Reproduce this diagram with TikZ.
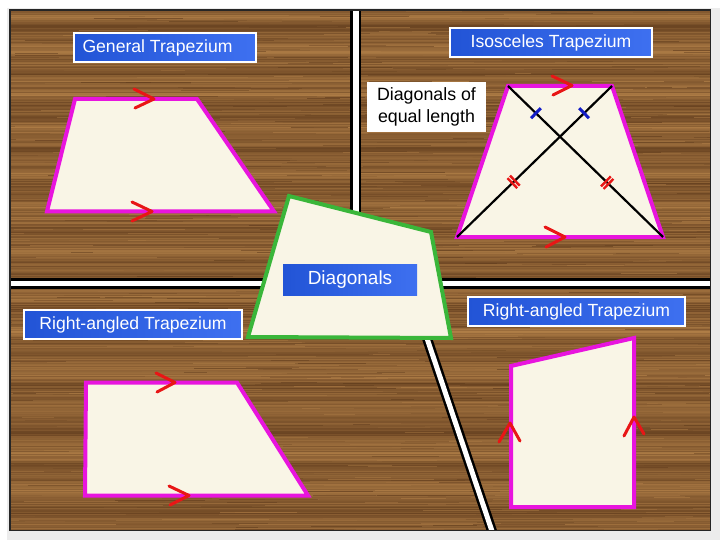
\documentclass[tikz,border=0pt]{standalone}
\usepackage{fontspec}
\setmainfont{Liberation Sans}
\usetikzlibrary{calc}
\definecolor{framegray}{RGB}{236,236,236}
\definecolor{wooddark}{RGB}{92,56,26}
\definecolor{woodlight}{RGB}{178,128,72}
\definecolor{woodmid}{RGB}{135,90,48}
\definecolor{cream}{RGB}{249,245,230}
\definecolor{pinkline}{RGB}{232,20,222}
\definecolor{greenline}{RGB}{58,182,58}
\definecolor{chevred}{RGB}{232,22,22}
\definecolor{tickblue}{RGB}{20,30,200}
\definecolor{lblA}{RGB}{34,84,214}
\definecolor{lblB}{RGB}{62,112,240}
\tikzset{
  shapefill/.style={fill=cream, draw=pinkline, line width=4pt, line join=miter},
  greenshape/.style={fill=cream, draw=greenline, line width=4pt, line join=miter},
  chev/.style={draw=chevred, line width=3pt, line cap=round, line join=round},
  diagline/.style={draw=black, line width=2.2pt},
  bluetick/.style={draw=tickblue, line width=3pt},
  redtick/.style={draw=chevred, line width=2.4pt},
  lblbox/.style={draw=white, line width=2.2pt, left color=lblA, right color=lblB, inner sep=0pt, minimum height=28.8pt},
  lbltxt/.style={text=white, font=\fontsize{17.6}{20}\selectfont, inner sep=0pt},
}
\begin{document}
\begin{tikzpicture}[x=1pt,y=-1pt]
\useasboundingbox (0,0) rectangle (720,540);
\fill[framegray] (0,0) rectangle (720,540);
\fill[white] (0,0) rectangle (720,8);
\fill[white] (0,0) rectangle (7,540);
% wood
\begin{scope}
\clip (10,10) rectangle (710,530);
\fill[woodmid] (10,10) rectangle (710,530);
\pgfmathsetseed{7}
\foreach \yy in {10,11,...,529}{
  \pgfmathtruncatemacro\pp{max(0,min(100,55+14*sin(\yy*9)+10*sin(\yy*23+40)+40*(rnd-0.5)))}
  \draw[line width=1.1pt, woodlight!\pp!wooddark] (10,\yy+0.5) -- (710,\yy+0.5);
}
\foreach \k in {1,...,900}{
  \pgfmathsetmacro\xa{10+700*rnd}
  \pgfmathsetmacro\ya{10+520*rnd}
  \pgfmathsetmacro\ll{15+110*rnd}
  \pgfmathtruncatemacro\pp{100*rnd}
  \draw[line width=0.8pt, woodlight!\pp!wooddark, opacity=0.55] (\xa,\ya) -- ++(\ll,0);
}
% dividers
\fill[black] (350,10) rectangle (361,284);
\fill[white] (353,10) rectangle (358.5,284);
\fill[black] (10,278) rectangle (710,288.5);
\fill[white] (10,281) rectangle (710,286);
\draw[black, line width=10pt] (409,285) -- (495,540);
\draw[white, line width=5pt] (409,285) -- (495,540);
\end{scope}
\draw[black!85, line width=1.6pt] (10,10) rectangle (710.5,530.5);

% General trapezium
\coordinate (g1) at (75,99);
\coordinate (g2) at (197,99);
\coordinate (g3) at (274,211.5);
\coordinate (g4) at (47,211.5);
\draw[shapefill] (g1) -- (g2) -- (g3) -- (g4) -- cycle;
\draw[chev] (134,89) -- (154,99) -- (135,108);
\draw[chev] (132,202) -- (152,211.5) -- (132,221);

% Isosceles trapezium
\coordinate (i1) at (508,86);
\coordinate (i2) at (612,86);
\coordinate (i3) at (663,237);
\coordinate (i4) at (457,237);
\draw[shapefill] (i1) -- (i2) -- (i3) -- (i4) -- cycle;
\draw[diagline] (i1) -- (i3);
\draw[diagline] (i2) -- (i4);
\coordinate (t1) at ($(i1)!0.18!(i3)$);
\coordinate (t2) at ($(i2)!0.18!(i4)$);
\draw[bluetick] ($(t1)!7pt!90:(i3)$) -- ($(t1)!7pt!-90:(i3)$);
\draw[bluetick] ($(t2)!7pt!90:(i4)$) -- ($(t2)!7pt!-90:(i4)$);
\coordinate (r1) at ($(i1)!0.64!(i3)$);
\coordinate (r2) at ($(i2)!0.635!(i4)$);
\foreach \s in {-1.8pt,1.8pt}{
  \coordinate (ra) at ($(r1)!\s!(i3)$);
  \draw[redtick] ($(ra)!7pt!90:(i3)$) -- ($(ra)!7pt!-90:(i3)$);
  \coordinate (rb) at ($(r2)!\s!(i4)$);
  \draw[redtick] ($(rb)!7pt!90:(i4)$) -- ($(rb)!7pt!-90:(i4)$);
}
\draw[chev] (552,76) -- (572,85.5) -- (553,95);
\draw[chev] (545,227) -- (565,237) -- (546,247);

% Right-angled trapezium (left)
\coordinate (a1) at (86,382.5);
\coordinate (a2) at (237,382.5);
\coordinate (a3) at (308,495.5);
\coordinate (a4) at (85,495.5);
\draw[shapefill] (a1) -- (a2) -- (a3) -- (a4) -- cycle;
\draw[chev] (156,373) -- (175,382.5) -- (157,392);
\draw[chev] (169,486) -- (189,495.5) -- (170,505);

% Right-angled trapezium (right)
\coordinate (b1) at (511,366);
\coordinate (b2) at (634,338);
\coordinate (b3) at (634,507);
\coordinate (b4) at (511,507);
\draw[shapefill] (b1) -- (b2) -- (b3) -- (b4) -- cycle;
\draw[chev] (499,442) -- (510,423) -- (520,441);
\draw[chev] (624,436) -- (634,417) -- (644,434);

% Diagonals quadrilateral
\coordinate (d1) at (289,196);
\coordinate (d2) at (431,232);
\coordinate (d3) at (451,338);
\coordinate (d4) at (248,337);
\draw[greenshape] (d1) -- (d2) -- (d3) -- (d4) -- cycle;

% labels
\node[lblbox, minimum width=181.8pt] (lg) at (165,47.5) {};
\node[lbltxt] at ($(lg.center)+(-7.5,0)$) {General Trapezium};
\node[lblbox, minimum width=201.8pt] (li) at (551,42.5) {};
\node[lbltxt] at (li.center) {Isosceles Trapezium};
\node[lblbox, minimum width=217.8pt] (lr) at (133,324.5) {};
\node[lbltxt] at (lr.center) {Right-angled Trapezium};
\node[lblbox, minimum width=216.8pt] (lq) at (576.5,311.5) {};
\node[lbltxt] at (lq.center) {Right-angled Trapezium};
\node[left color=lblA, right color=lblB, inner sep=0pt, minimum width=134pt, minimum height=31pt] (ld) at (350,279.5) {};
\node[lbltxt, font=\fontsize{19}{22}\selectfont] at (ld.center) {Diagonals};
\node[fill=white, minimum width=119pt, minimum height=50pt, inner sep=0pt, align=center, font=\fontsize{17.8}{21.5}\selectfont] (de) at (426.5,107) {Diagonals of\\equal length};
\end{tikzpicture}
\end{document}
